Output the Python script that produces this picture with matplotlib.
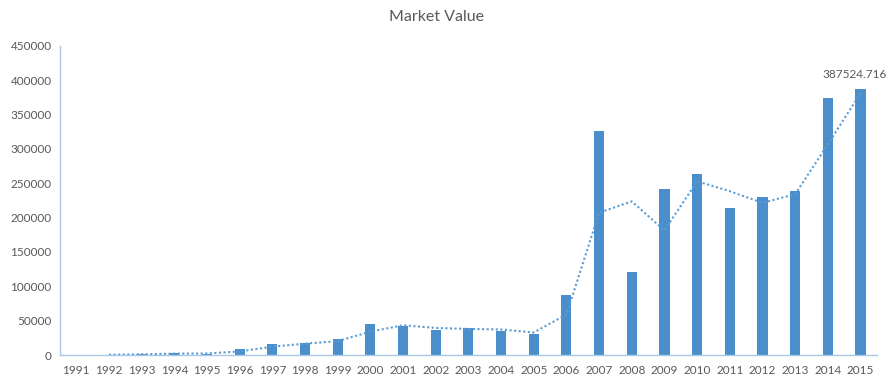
import matplotlib
matplotlib.use('Agg')
import matplotlib.pyplot as plt
import numpy as np
import pandas as pd

years = [str(y) for y in range(1991, 2016)]
market_value = [0, 500, 1500, 2500, 2000, 8300, 16000, 17000, 23300, 44700,
                41800, 36900, 38900, 35400, 30200, 87500, 326500, 120500, 242000, 263400,
                213300, 229300, 238600, 374200, 387524.716]

BAR = '#4A8FCC'
LINE = '#5B9BD5'
SPINE = '#A9C8E8'
TXT = '#595959'

# two-period moving average trendline
trend = pd.Series(market_value).rolling(2).mean()

fig = plt.figure(figsize=(8.95, 3.83), dpi=100)
ax = fig.add_axes([0.067, 0.0731, 0.9127, 0.8076])

x = np.arange(len(years))
ax.bar(x, market_value, width=0.31, color=BAR, zorder=2)
ax.plot(x, trend, linestyle=(0, (1, 1.2)), color=LINE, linewidth=1.5, zorder=3)

ax.set_xlim(-0.5, len(years) - 0.5)
ax.set_ylim(0, 450000)
ax.set_yticks(np.arange(0, 450001, 50000))
ax.set_yticklabels([str(v) for v in range(0, 450001, 50000)])
ax.set_xticks(x)
ax.set_xticklabels(years)
ax.tick_params(axis='both', length=0, labelsize=8.5, colors=TXT, labelfontfamily='Lato')
ax.tick_params(axis='x', pad=7)
ax.tick_params(axis='y', pad=6)

for s in ['top', 'right']:
    ax.spines[s].set_visible(False)
for s in ['left', 'bottom']:
    ax.spines[s].set_color(SPINE)
    ax.spines[s].set_linewidth(1.0)

ax.annotate(f'{market_value[-1]}', (x[-1], market_value[-1]),
            xytext=(-4, 6), textcoords='offset points', ha='center', va='bottom',
            fontsize=8.5, color=TXT, family='Lato')

fig.text(0.488, 0.955, 'Market Value', ha='center', va='center',
         fontsize=11.5, color=TXT, family='Lato')

fig.savefig('out.png', dpi=100, facecolor='white')
